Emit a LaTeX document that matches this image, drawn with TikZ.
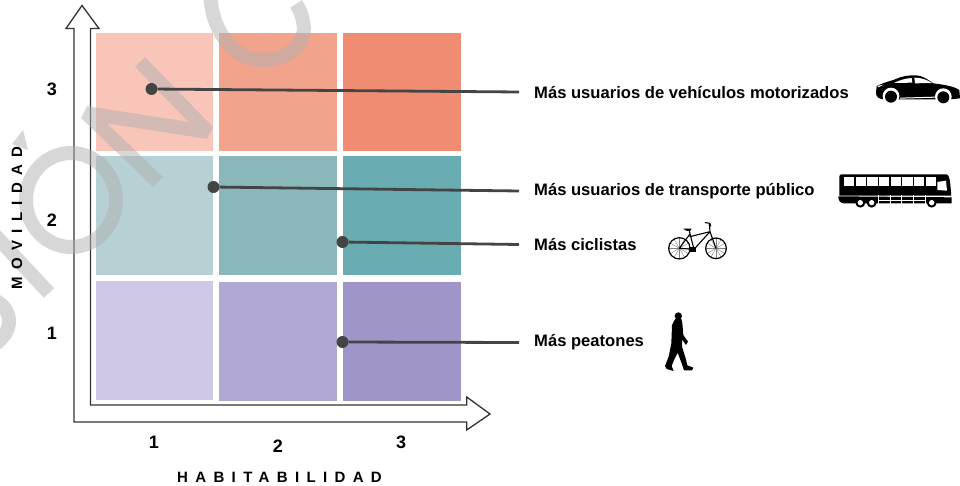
\documentclass[tikz,border=0pt]{standalone}
\usepackage{fontspec}
\setmainfont{Liberation Sans}
\newfontfamily\spacedfont[LetterSpace=49]{Liberation Sans}
\definecolor{c11}{HTML}{F9C5B8}\definecolor{c12}{HTML}{F1A38B}\definecolor{c13}{HTML}{EF8C72}
\definecolor{c21}{HTML}{B6D0D3}\definecolor{c22}{HTML}{8AB7BA}\definecolor{c23}{HTML}{69ACB1}
\definecolor{c31}{HTML}{CEC8E6}\definecolor{c32}{HTML}{B0A8D2}\definecolor{c33}{HTML}{9F95C8}
\definecolor{wm}{HTML}{B1B1B1}
\definecolor{axiscol}{HTML}{333333}
\definecolor{linkcol}{HTML}{444444}
\tikzset{
  x=1pt,y=-1pt,
  wmstroke/.style={draw=wm,line width=14pt,line join=bevel,fill=none},
  axisline/.style={draw=axiscol,line width=1.3pt,fill=white,line join=miter},
  linkdot/.style={circle,fill=linkcol,inner sep=0pt,minimum size=12pt},
  linkline/.style={draw=linkcol,line width=2.8pt},
  lab/.style={anchor=west,inner sep=0pt,font=\fontsize{16.6}{16.6}\selectfont\bfseries},
  num/.style={inner sep=0pt,font=\fontsize{18}{18}\selectfont\bfseries},
  axistitle/.style={inner sep=0pt,font=\spacedfont\fontsize{15}{15}\selectfont\bfseries},
  icon/.style={x=0.3333pt,y=-0.3333pt},
}
\begin{document}
\begin{tikzpicture}
\useasboundingbox (0,0) rectangle (960,486);
\fill[white] (0,0) rectangle (960,486);
% cells
\fill[c11] (96,33) rectangle (213,151);
\fill[c12] (219,33) rectangle (337,151);
\fill[c13] (343,33) rectangle (461,151);
\fill[c21] (96,156) rectangle (213,275);
\fill[c22] (219,156) rectangle (337,275);
\fill[c23] (343,156) rectangle (461,275);
\fill[c31] (96,281) rectangle (213,400);
\fill[c32] (219,282) rectangle (337,401);
\fill[c33] (343,282) rectangle (461,401);
% axes
\draw[axisline] (82,5.5) -- (99,28.5) -- (90.5,28.5) -- (90.5,405) -- (466.7,405) -- (466.7,397)
  -- (490,414) -- (466.7,430) -- (466.7,422) -- (74,422) -- (74,28.5) -- (66,28.5) -- cycle;
% watermark
\begin{scope}
\clip (0,0) rectangle (960,486);
\begin{scope}[transparency group,opacity=.5]
\draw[wmstroke] (210,-6) .. controls (212,30) and (232,60) .. (263,60) .. controls (292,60) and (308,40) .. (303,22) .. controls (302,14) and (299,8) .. (296,4);
\draw[wmstroke] (140,62) -- (208,132) -- (86,113) -- (158,182);
\draw[wmstroke] (71,200) circle[x radius=45,y radius=47];
\fill[wm] (23,130) -- (12,144) -- (28,150) -- cycle;
\draw[wmstroke] (-8,232) -- (49,293);
\draw[wmstroke] (-6,300) .. controls (12,308) and (16,330) .. (-6,345);
\end{scope}
\end{scope}
% labels
\node[lab] (l1) at (534,92) {Más usuarios de vehículos motorizados};
\node[lab] (l2) at (534,191) {Más usuarios de transporte público};
\node[lab] (l3) at (534,244.5) {Más ciclistas};
\node[lab] (l4) at (534,342.5) {Más peatones};
% connectors
\node[linkdot] (d1) at (151.5,89) {};
\node[linkdot] (d2) at (213.5,187) {};
\node[linkdot] (d3) at (342.5,242) {};
\node[linkdot] (d4) at (342.5,342) {};
\draw[linkline] (d1) -- ([xshift=-15pt]l1.west);
\draw[linkline] (d2) -- ([xshift=-15pt]l2.west);
\draw[linkline] (d3) -- ([xshift=-15pt]l3.west);
\draw[linkline] (d4) -- ([xshift=-15pt]l4.west);
% axis numbers and titles
\node[num] (y3) at (52,89) {3};
\node[num] (y2) at (52,220) {2};
\node[num] (y1) at (52,333) {1};
\node[num] (x1) at (154,442) {1};
\node[num] (x2) at (278,446) {2};
\node[num] (x3) at (401,442) {3};
\node[axistitle] (xt) at (279.5,477) {HABITABILIDAD};
\node[axistitle,rotate=90] (yt) at (17,218) {MOVILIDAD};
% car
\begin{scope}[shift={(820,60)},icon]
\fill[black] (170,78) .. controls (190,68) and (215,62) .. (225,58) .. controls (245,48) and (270,45) .. (290,46)
  .. controls (310,48) and (325,60) .. (340,70) .. controls (370,74) and (400,78) .. (418,90)
  -- (420,115) -- (392,118) -- (190,118) .. controls (175,116) and (168,110) .. (168,98) -- cycle;
\fill[white] (222,69) .. controls (240,60) and (258,55) .. (275,54) -- (277,68) -- cycle;
\fill[white] (283,53) .. controls (305,53) and (322,60) .. (336,69) -- (285,70) -- cycle;
\fill[white] (240,113) -- (345,110) -- (345,113) -- (240,116) -- cycle;
\fill[white] (172,78) -- (190,74) -- (176,82) -- cycle;
\foreach \cx/\cy in {213/108,370/110}{
  \fill[white] (\cx,\cy) circle[radius=25];
  \fill[black] (\cx,\cy+2) circle[radius=18];
}
\end{scope}
% bus
\begin{scope}[shift={(820,60)},icon]
\fill[black] (65,343) -- (380,343) .. controls (388,345) and (390,360) .. (393,395) -- (393,407) -- (58,407) -- (58,350) .. controls (58,345) and (60,343) .. (65,343) -- cycle;
\fill[black] (55,409) -- (395,412) -- (395,430) -- (70,430) .. controls (60,428) and (55,422) .. (55,409) -- cycle;
\foreach \wx in {72,107,142,177,212,247,282,317}{
  \fill[white] (\wx,352) rectangle ++(31,26);
}
\fill[white] (352,366) -- (378,362) -- (381,392) -- (352,390) -- cycle;
\draw[white,line width=.5pt] (175,422) -- (315,422)
  (175,405) -- (175,432) (210,405) -- (210,432) (245,405) -- (245,432) (280,405) -- (280,432) (315,405) -- (315,432);
\foreach \wx in {121,155,335}{
  \fill[black] (\wx,428) circle[radius=15];
  \fill[white] (\wx,428) circle[radius=8];
}
\end{scope}
% bicycle
\begin{scope}[shift={(640,210)},icon]
\foreach \cx/\r in {118/32,228/31}{
  \foreach \a in {0,30,...,330}{\draw[gray,line width=.4pt] (\cx,115) -- ++(\a:\r);}
  \draw[black,line width=1.2pt] (\cx,115) circle[radius=\r];
}
\draw[black,line width=1.1pt,line join=round,line cap=round]
  (118,115) -- (162,118) -- (150,72) -- (118,115)
  (150,80) -- (210,65) -- (162,118)
  (150,72) -- (148,60)
  (208,40) -- (210,65) -- (228,115)
  (196,38) -- (210,40) -- (212,48);
\fill[black] (130,56) -- (155,56) -- (150,63) -- (138,62) -- cycle;
\fill[black] (148,112) rectangle (168,125);
\end{scope}
% pedestrian
\begin{scope}[shift={(640,210)},icon]
\fill[black] (115,318) circle[radius=11];
\fill[black] (106,326) -- (124,326) -- (127,340) -- (130,375) -- (144,395) -- (138,405) -- (126,388) -- (126,410)
  -- (137,445) -- (142,466) -- (160,473) -- (156,481) -- (132,481) -- (125,460) -- (113,428) -- (102,450)
  -- (95,468) -- (101,483) -- (80,477) -- (75,468) -- (86,440) -- (94,400) -- (96,345) -- cycle;
\end{scope}
\end{tikzpicture}
\end{document}
